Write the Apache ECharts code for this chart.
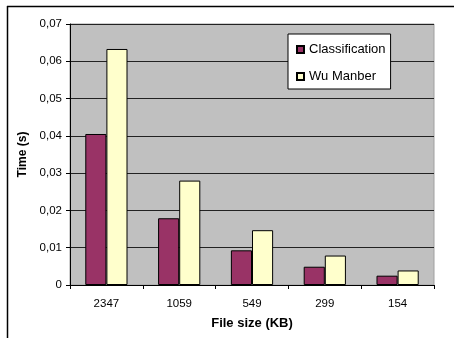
<!DOCTYPE html>
<html>
<head>
<meta charset="utf-8">
<script src="https://cdn.jsdelivr.net/npm/echarts@6/dist/echarts.min.js"></script>
<style>
  html, body { margin: 0; padding: 0; background: #fff; }
  #chart { width: 454px; height: 338px; }
</style>
</head>
<body>
<div id="chart"></div>
<script>
// File sizes tested (KB) and search times (s) per algorithm
var fileSizes = ['2347', '1059', '549', '299', '154'];
var classificationTimes = [0.0405, 0.0179, 0.0093, 0.0049, 0.0025];
var wuManberTimes = [0.0633, 0.0280, 0.0147, 0.0079, 0.0039];
var yTicks = { min: 0, max: 0.07, interval: 0.01 };

var FONT = '"Liberation Sans", Arial, sans-serif';

function commaDecimal(v) {
  if (v === 0) return '0';
  return v.toFixed(2).replace('.', ',');
}

var chart = echarts.init(document.getElementById('chart'), null, { renderer: 'canvas' });

chart.setOption({
  animation: false,
  backgroundColor: '#ffffff',
  textStyle: { fontFamily: FONT },
  graphic: [
    { type: 'line', shape: { x1: 7, y1: 6.5, x2: 454, y2: 6.5 }, style: { stroke: '#000', lineWidth: 1.5 } },
    { type: 'line', shape: { x1: 7.5, y1: 6, x2: 7.5, y2: 338 }, style: { stroke: '#000', lineWidth: 1.5 } }
  ],
  grid: {
    left: 70, top: 24, right: 20, bottom: 53,
    show: true,
    backgroundColor: '#C0C0C0',
    borderColor: '#A0A0A0',
    borderWidth: 1
  },
  legend: {
    orient: 'vertical',
    left: 288, top: 34,
    padding: [9, 5, 6, 8],
    backgroundColor: '#ffffff',
    borderColor: '#000',
    borderWidth: 1,
    icon: 'rect',
    itemWidth: 7, itemHeight: 7,
    itemGap: 14,
    textStyle: { fontFamily: FONT, fontSize: 13, color: '#000' },
    data: ['Classification', 'Wu Manber']
  },
  xAxis: {
    type: 'category',
    data: fileSizes,
    name: 'File size (KB)',
    nameLocation: 'middle',
    nameGap: 32,
    nameTextStyle: { fontFamily: FONT, fontSize: 13, fontWeight: 'bold', color: '#000' },
    axisLine: { lineStyle: { color: '#000', width: 1 } },
    axisTick: { show: true, alignWithLabel: false, length: 4, lineStyle: { color: '#000' } },
    axisLabel: { fontFamily: FONT, fontSize: 11.5, color: '#000', margin: 13 }
  },
  yAxis: {
    type: 'value',
    min: yTicks.min, max: yTicks.max, interval: yTicks.interval,
    name: 'Time (s)',
    nameLocation: 'middle',
    nameGap: 39,
    nameRotate: 90,
    nameTextStyle: { fontFamily: FONT, fontSize: 12, fontWeight: 'bold', color: '#000' },
    axisLine: { show: true, lineStyle: { color: '#000', width: 1 } },
    axisTick: { show: true, length: 4, lineStyle: { color: '#000' } },
    axisLabel: { fontFamily: FONT, fontSize: 11.5, color: '#000', margin: 8, formatter: commaDecimal },
    splitLine: { show: true, lineStyle: { color: '#222', width: 1 } }
  },
  series: [
    {
      name: 'Classification',
      type: 'bar',
      data: classificationTimes,
      barGap: '0%',
      barCategoryGap: '42%',
      itemStyle: { color: '#993366', borderColor: '#000', borderWidth: 1 }
    },
    {
      name: 'Wu Manber',
      type: 'bar',
      data: wuManberTimes,
      barGap: '0%',
      barCategoryGap: '42%',
      itemStyle: { color: '#FFFFCC', borderColor: '#000', borderWidth: 1 }
    }
  ]
});
</script>
</body>
</html>
